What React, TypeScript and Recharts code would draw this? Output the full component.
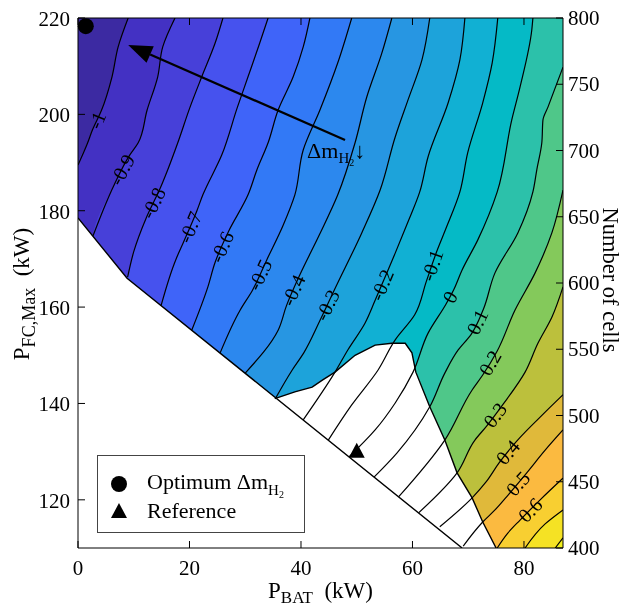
import React from 'react'
import {
  ComposedChart,
  Area,
  Line,
  XAxis,
  YAxis,
  ReferenceDot,
  ReferenceLine,
  Legend,
} from 'recharts'

type XY = [number, number]
type Row = XY | null

const FONT = '"Liberation Serif", "Times New Roman", serif'
const X_MAX = 87
const Y_MIN = 110
const Y_MAX = 220

const xTicks = [0, 20, 40, 60, 80]
const yTicks = [120, 140, 160, 180, 200, 220]
const cellTicks = [400, 450, 500, 550, 600, 650, 700, 750, 800]

const levels = [-1, -0.9, -0.8, -0.7, -0.6, -0.5, -0.4, -0.3, -0.2, -0.1, 0, 0.1, 0.2, 0.3, 0.4, 0.5, 0.6, 0.7, 0.8]

// fill below the first level, then one colour per level
const bandColors = [
  '#3c2aa2', '#4331c3', '#4740d9', '#4652ee', '#3f64f9', '#3279f6', '#2c88ee',
  '#2796e2', '#1da3da', '#11b0d3', '#05bac6', '#2cc1aa', '#4fc789', '#84c95b',
  '#bcc03c', '#e0b93a', '#fbba40', '#f8cf31', '#f5e224', '#f1ef1c',
]

// contour lines as [P_BAT, P_FC,Max]; null marks the gap under the label
const cM10: Row[] = [[9.0, 220], [7.2, 214.0], [6.1, 207.8], [4.2, 200.8], null, [2.6, 196.8], [1.7, 194.0], [0, 189.5]]
const cM09: Row[] = [[17.4, 220], [15.2, 214.0], [14.3, 207.8], [12.4, 200.9], [10.8, 194.1], [9.3, 191.6], null, [6.5, 185.4], [2.7, 174.8]]
const cM08: Row[] = [[26.0, 220], [24.6, 214.8], [22.2, 207.8], [20.1, 201.5], [17.9, 194.1], [16.1, 188.5], [14.8, 184.8], null, [12.2, 178.4], [10.0, 171.5], [8.9, 166.2]]
const cM07: Row[] = [[34.1, 220], [32.6, 214.8], [30.5, 207.8], [28.6, 201.5], [25.8, 191.6], [22.4, 183.3], [21.3, 179.9], null, [18.9, 173.4], [17.6, 170.0], [14.9, 160.3]]
const cM06: Row[] = [[41.6, 220], [40.4, 214.0], [38.6, 207.8], [35.9, 200.9], [34.1, 194.1], [32.1, 188.5], [30.5, 183.3], [27.0, 175.7], null, [24.6, 169.3], [23.3, 164.2], [20.4, 155.2]]
const cM05: Row[] = [[49.1, 220], [46.6, 210.7], [43.4, 200.9], [40.4, 192.6], [38.9, 183.3], [36.8, 177.0], [33.9, 169.9], null, [31.3, 163.5], [29.1, 159.4], [25.5, 150.5]]
const cM04: Row[] = [[56.3, 220], [54.5, 212.7], [51.8, 203.6], [49.7, 194.1], [46.6, 183.3], [43.3, 175.0], [39.8, 166.7], null, [37.4, 160.3], [35.9, 155.2], [30.0, 146.3]]
const cM03: Row[] = [[63.1, 220], [61.7, 211.3], [59.2, 203.0], [56.9, 195.3], [54.2, 184.3], [50.9, 175.4], [46.0, 163.6], null, [43.4, 157.2], [40.5, 150.5], [38.4, 146.9], [35.4, 141.0]]
const cM02: Row[] = [[69.4, 220], [68.5, 211.3], [66.4, 202.4], [62.8, 191.2], [61.3, 183.9], [59.2, 177.7], [56.9, 171.2], [55.7, 167.9], null, [53.3, 161.4], [51.5, 156.7], [48.4, 151.1], [46.1, 146.5], [40.4, 136.6]]
const cM01: Row[] = [[75.3, 220], [74.3, 210.7], [72.6, 202.4], [69.9, 192.0], [68.5, 183.9], [66.0, 176.3], [64.5, 172.0], null, [62.5, 165.4], [60.4, 158.4], [56.9, 153.2], [53.8, 146.9], [49.1, 139.7], [44.9, 132.4]]
const c00: Row[] = [[81.6, 220], [81.4, 217.5], [79.3, 205.7], [77.8, 198.8], [75.2, 183.9], [71.7, 173.9], [68.9, 167.7], [67.4, 163.6], null, [66.0, 160.6], [62.8, 154.6], [60.1, 146.5], [56.9, 140.1], [53.3, 134.5], [48.6, 128.9]]
const c01: Row[] = [[87, 209.8], [84.3, 201.5], [83.4, 198.8], [83.2, 194.1], [82.3, 188.5], [81.6, 183.9], [78.9, 175.4], [74.8, 167.1], [72.7, 159.5], null, [70.5, 154.3], [68.2, 151.1], [65.8, 146.3], [63.1, 139.3], [57.2, 129.7], [53.1, 124.7]]
const c02: Row[] = [[87, 184.3], [85.0, 175.4], [82.0, 167.1], [78.4, 159.4], [75.2, 150.9], null, [72.6, 145.9], [70.7, 142.8], [65.8, 132.4], [57.5, 120.6]]
const c03: Row[] = [[87, 164.2], [85.0, 157.9], [82.5, 152.5], [80.2, 146.5], [76.3, 139.9], null, [73.3, 135.3], [71.2, 132.4], [68.0, 125.6], [61.1, 117.3]]
const c04: Row[] = [[87, 141.8], [83.8, 138.2], [78.7, 132.2], null, [75.5, 127.6], [73.2, 123.7], [70.7, 120.4], [64.9, 114.4]]
const c05: Row[] = [[87, 134.5], [83.8, 130.3], [80.5, 125.6], null, [77.3, 121.2], [74.8, 117.9], [72.6, 115.4], [69.1, 110.4]]
const c06: Row[] = [[87, 124.5], [82.9, 120.0], null, [79.3, 115.8], [77.1, 113.1], [75.2, 110]]
const c07: Row[] = [[87, 117.9], [83.8, 115.0], [80.2, 110]]
const c08: Row[] = [[87, 112.1], [85.6, 110]]

const contours = [cM10, cM09, cM08, cM07, cM06, cM05, cM04, cM03, cM02, cM01, c00, c01, c02, c03, c04, c05, c06, c07, c08]

const contourLabels = [
  { text: '-1', x: 3.4, y: 198.8, angle: -67 },
  { text: '-0.9', x: 7.9, y: 188.5, angle: -62 },
  { text: '-0.8', x: 13.5, y: 181.6, angle: -64 },
  { text: '-0.7', x: 20.1, y: 176.6, angle: -67 },
  { text: '-0.6', x: 25.8, y: 172.5, angle: -66 },
  { text: '-0.5', x: 32.6, y: 166.7, angle: -65 },
  { text: '-0.4', x: 38.6, y: 163.5, angle: -66 },
  { text: '-0.3', x: 44.7, y: 160.4, angle: -64 },
  { text: '-0.2', x: 54.5, y: 164.6, angle: -67 },
  { text: '-0.1', x: 63.5, y: 168.7, angle: -71 },
  { text: '0', x: 66.7, y: 162.1, angle: -62 },
  { text: '0.1', x: 71.6, y: 156.9, angle: -64 },
  { text: '0.2', x: 73.9, y: 148.4, angle: -60 },
  { text: '0.3', x: 74.8, y: 137.6, angle: -53 },
  { text: '0.4', x: 77.1, y: 129.9, angle: -50 },
  { text: '0.5', x: 78.9, y: 123.4, angle: -48 },
  { text: '0.6', x: 81.1, y: 117.9, angle: -45 },
]

// infeasible corner (bottom left) and the unfilled region around the reference design
const infeasibleEdge: XY[] = [[0, 178.5], [8.8, 166], [68.9, 110]]
const infeasibleRows: XY[] = [[178.5, 0], [166, 8.8], [110, 68.9]] // [y, x]
const holeEdge: XY[] = [
  [35.3, 141.0], [38.9, 142.4], [42.0, 143.4], [43.9, 144.9], [46.1, 146.5], [49.7, 150.0],
  [53.3, 152.1], [56.3, 152.5], [58.7, 152.5], [59.9, 150.5], [60.6, 146.5], [63.1, 139.3],
  [65.8, 132.4], [68.0, 125.6], [70.7, 120.4], [72.6, 115.4], [75.0, 110],
]
const holeRows: [number, number, number][] = [
  [152.5, 56.3, 58.7], [152.1, 53.3, 58.9], [150.5, 50.6, 59.9], [150.0, 49.7, 60.0],
  [146.5, 46.1, 60.6], [144.9, 43.9, 61.2], [143.4, 42.0, 61.7], [142.4, 38.9, 62.0],
  [141.0, 35.3, 62.5], [139.3, 0, 63.1], [132.4, 0, 65.8], [125.6, 0, 68.0],
  [120.4, 0, 70.7], [115.4, 0, 72.6], [110, 0, 75.0],
]

const optimum = { x: 1.4, y: 218.3 }
const reference = { x: 50.0, y: 130.0 }
const arrowFrom = { x: 47.9, y: 194.7 }
const arrowTo = { x: 9.0, y: 214.4 }
const arrowText = { x: 41.1, y: 190.9 }

const toLine = (rows: Row[]) =>
  rows.map((r, i) => (r ? { x: r[0], y: r[1] } : { x: null, y: (rows[i - 1] as XY)[1] }))

const toBand = (rows: Row[]) => {
  const pts = rows.filter((r): r is XY => r !== null)
  const out = pts.map(([x, y]) => ({ y, r: [x, X_MAX] }))
  if (pts[pts.length - 1][1] > Y_MIN) out.push({ y: Y_MIN, r: [0, X_MAX] })
  return out
}

const BottomTick = ({ x, y, payload }: any) => (
  <g>
    <line x1={x} x2={x} y1={y} y2={y - 7} stroke="#000" />
    <text x={x} y={y + 27} textAnchor="middle" fontSize={21} fill="#000">{payload.value}</text>
  </g>
)
const TopTick = ({ x, y }: any) => <line x1={x} x2={x} y1={y} y2={y + 7} stroke="#000" />
const LeftTick = ({ x, y, payload }: any) => (
  <g>
    <line x1={x} x2={x + 7} y1={y} y2={y} stroke="#000" />
    <text x={x - 8} y={y + 8} textAnchor="end" fontSize={21} fill="#000">{payload.value}</text>
  </g>
)
const RightTick = ({ x, y, payload }: any) => (
  <g>
    <line x1={x} x2={x - 7} y1={y} y2={y} stroke="#000" />
    <text x={x + 5} y={y + 7} textAnchor="start" fontSize={21} fill="#000">{payload.value}</text>
  </g>
)

const XTitle = ({ viewBox }: any) => (
  <text x={viewBox.x + viewBox.width / 2} y={viewBox.y + 50} textAnchor="middle" fontSize={23} fill="#000">
    P<tspan dy={5} fontSize={17}>BAT</tspan>
    <tspan dy={-5}>{'\u00a0 (kW)'}</tspan>
  </text>
)
const YTitle = ({ viewBox }: any) => {
  const cx = viewBox.x + 11
  const cy = viewBox.y + 276
  return (
    <text x={cx} y={cy} transform={`rotate(-90 ${cx} ${cy})`} textAnchor="middle" fontSize={23} fill="#000">
      P<tspan dy={6} fontSize={18}>FC,Max</tspan>
      <tspan dy={-6}>{'\u00a0 (kW)'}</tspan>
    </text>
  )
}
const CellsTitle = ({ viewBox }: any) => {
  const cx = viewBox.x + 40
  const cy = viewBox.y + 262
  return (
    <text x={cx} y={cy} transform={`rotate(90 ${cx} ${cy})`} textAnchor="middle" fontSize={22.5} fill="#000">
      Number of cells
    </text>
  )
}

const LevelLabel = ({ cx, cy, text, angle }: any) => (
  <text
    x={cx}
    y={cy}
    transform={`rotate(${angle} ${cx} ${cy})`}
    textAnchor="middle"
    dominantBaseline="central"
    fontSize={20}
    fill="#000"
  >
    {text}
  </text>
)

const Triangle = ({ cx, cy }: any) => (
  <polygon points={`${cx},${cy - 9} ${cx - 8},${cy + 6} ${cx + 8},${cy + 6}`} fill="#000" />
)

const Arrow = ({ x1, y1, x2, y2 }: any) => {
  const a = Math.atan2(y2 - y1, x2 - x1)
  const len = 24
  const w = 9
  const bx = x2 - len * Math.cos(a)
  const by = y2 - len * Math.sin(a)
  const px = -Math.sin(a) * w
  const py = Math.cos(a) * w
  return (
    <g>
      <line x1={x1} y1={y1} x2={bx} y2={by} stroke="#000" strokeWidth={2.2} />
      <polygon points={`${x2},${y2} ${bx + px},${by + py} ${bx - px},${by - py}`} fill="#000" />
    </g>
  )
}

const DeltaText = ({ cx, cy }: any) => (
  <text x={cx} y={cy} fontSize={22} fill="#000">
    Δm<tspan dy={5} fontSize={15}>H</tspan>
    <tspan dy={3} fontSize={10}>2</tspan>
    <tspan dy={-8} fontSize={22}>↓</tspan>
  </text>
)

const LegendBox = () => (
  <div
    style={{
      position: 'relative',
      width: 206,
      height: 76,
      border: '1px solid #444',
      background: '#fff',
      fontFamily: FONT,
      fontSize: 22,
      color: '#000',
    }}
  >
    <svg width={20} height={20} style={{ position: 'absolute', left: 11, top: 18 }}>
      <circle cx={10} cy={10} r={8} fill="#000" />
    </svg>
    <div style={{ position: 'absolute', left: 49, top: 13, whiteSpace: 'nowrap', lineHeight: '26px' }}>
      Optimum Δm
      <span style={{ fontSize: 15, position: 'relative', top: 6 }}>H</span>
      <span style={{ fontSize: 10, position: 'relative', top: 9 }}>2</span>
    </div>
    <svg width={20} height={20} style={{ position: 'absolute', left: 11, top: 45 }}>
      <polygon points="10,2 2,17 18,17" fill="#000" />
    </svg>
    <div style={{ position: 'absolute', left: 49, top: 42, whiteSpace: 'nowrap', lineHeight: '26px' }}>
      Reference
    </div>
  </div>
)

// keeps the top and right axes drawn
const frameAnchor = [{ x: 0, y: 400 }, { x: X_MAX, y: 800 }]

export default function App() {
  return (
    <div style={{ fontFamily: FONT, position: 'fixed', left: 0, top: 0, width: 624, height: 610 }}>
      <ComposedChart
        layout="vertical"
        width={624}
        height={610}
        margin={{ top: 17, right: 16, bottom: 12, left: 18 }}
      >
        <Area
          data={[{ y: Y_MAX, r: [0, X_MAX] }, { y: Y_MIN, r: [0, X_MAX] }]}
          dataKey="r"
          type="linear"
          fill={bandColors[0]}
          fillOpacity={1}
          stroke="none"
          isAnimationActive={false}
        />
        {contours.map((c, i) => (
          <Area
            key={`band${levels[i]}`}
            data={toBand(c)}
            dataKey="r"
            type="monotone"
            fill={bandColors[i + 1]}
            fillOpacity={1}
            stroke="none"
            isAnimationActive={false}
          />
        ))}
        <Area
          data={infeasibleRows.map(([y, x]) => ({ y, r: [0, x] }))}
          dataKey="r"
          type="linear"
          fill="#fff"
          fillOpacity={1}
          stroke="none"
          isAnimationActive={false}
        />
        <Area
          data={holeRows.map(([y, lo, hi]) => ({ y, r: [lo, hi] }))}
          dataKey="r"
          type="linear"
          fill="#fff"
          fillOpacity={1}
          stroke="none"
          isAnimationActive={false}
        />
        {contours.map((c, i) => (
          <Line
            key={`line${levels[i]}`}
            data={toLine(c)}
            dataKey="x"
            type="monotone"
            stroke="#000"
            strokeWidth={1.2}
            dot={false}
            activeDot={false}
            isAnimationActive={false}
          />
        ))}
        <Line
          data={infeasibleEdge.map(([x, y]) => ({ x, y }))}
          dataKey="x"
          type="linear"
          stroke="#000"
          strokeWidth={1.4}
          dot={false}
          activeDot={false}
          isAnimationActive={false}
        />
        <Line
          data={holeEdge.map(([x, y]) => ({ x, y }))}
          dataKey="x"
          type="linear"
          stroke="#000"
          strokeWidth={1.4}
          dot={false}
          activeDot={false}
          isAnimationActive={false}
        />
        <Line
          data={frameAnchor}
          dataKey="x"
          xAxisId="top"
          yAxisId="cells"
          stroke="none"
          dot={false}
          activeDot={false}
          isAnimationActive={false}
        />
        {contourLabels.map((l) => (
          <ReferenceDot
            key={`lab${l.text}`}
            x={l.x}
            y={l.y}
            r={0}
            shape={(p: any) => <LevelLabel {...p} text={l.text} angle={l.angle} />}
          />
        ))}
        <ReferenceLine
          segment={[arrowFrom, arrowTo]}
          shape={(p: any) => <Arrow {...p} />}
        />
        <ReferenceDot x={arrowText.x} y={arrowText.y} r={0} shape={(p: any) => <DeltaText {...p} />} />
        <ReferenceDot x={optimum.x} y={optimum.y} r={8} fill="#000" stroke="none" />
        <ReferenceDot x={reference.x} y={reference.y} r={8} shape={(p: any) => <Triangle {...p} />} />
        <XAxis
          type="number"
          domain={[0, X_MAX]}
          ticks={xTicks}
          interval={0}
          allowDataOverflow
          height={50}
          tickSize={0}
          tickMargin={0}
          tickLine={false}
          axisLine={{ stroke: '#000' }}
          tick={(p: any) => <BottomTick {...p} />}
          label={<XTitle />}
        />
        <XAxis
          xAxisId="top"
          orientation="top"
          type="number"
          domain={[0, X_MAX]}
          ticks={xTicks}
          interval={0}
          allowDataOverflow
          height={1}
          tickSize={0}
          tickMargin={0}
          tickLine={false}
          axisLine={{ stroke: '#000' }}
          tick={(p: any) => <TopTick {...p} />}
        />
        <YAxis
          type="number"
          dataKey="y"
          reversed
          domain={[Y_MIN, Y_MAX]}
          ticks={yTicks}
          interval={0}
          allowDataOverflow
          width={60}
          tickSize={0}
          tickMargin={0}
          tickLine={false}
          axisLine={{ stroke: '#000' }}
          tick={(p: any) => <LeftTick {...p} />}
          label={<YTitle />}
        />
        <YAxis
          yAxisId="cells"
          orientation="right"
          type="number"
          dataKey="y"
          reversed
          domain={[400, 800]}
          ticks={cellTicks}
          interval={0}
          allowDataOverflow
          width={45}
          tickSize={0}
          tickMargin={0}
          tickLine={false}
          axisLine={{ stroke: '#000' }}
          tick={(p: any) => <RightTick {...p} />}
          label={<CellsTitle />}
        />
        <Legend
          layout="horizontal"
          verticalAlign="middle"
          align="center"
          wrapperStyle={{ left: 97, top: 455, width: 208, height: 78 }}
          content={() => <LegendBox />}
        />
      </ComposedChart>
    </div>
  )
}
